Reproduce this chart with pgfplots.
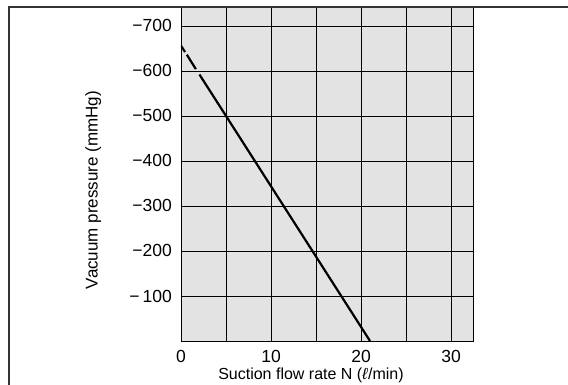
\documentclass[border=0pt]{standalone}
\usepackage{pgfplots}
\pgfplotsset{compat=1.18}
\usepackage{fontspec}
\setmainfont{Liberation Sans}
\begin{document}
\begin{tikzpicture}
\path[use as bounding box] (0,0) rectangle (568pt,385pt);
\begin{axis}[
  at={(181pt,44pt)}, anchor=south west,
  scale only axis, width=292pt, height=334pt,
  xmin=0, xmax=32.44, ymin=-742, ymax=0,
  y dir=reverse,
  axis background/.style={fill=black!11},
  axis line style={black, line width=0.8pt},
  xtick={0,10,20,30},
  minor xtick={5,15,25},
  ytick={-700,-600,-500,-400,-300,-200,-100},
  yticklabels={−700,−600,−500,−400,−300,−200,−\,100},
  xticklabels={0,10,20,30},
  grid=both,
  major grid style={black, line width=0.7pt},
  minor grid style={black, line width=0.7pt},
  major tick length=0pt, minor tick length=0pt,
  tick label style={font=\fontsize{17.5}{20}\selectfont, inner sep=0pt},
  xticklabel style={anchor=center, yshift=-15.5pt},
  yticklabel style={anchor=east, xshift=-9pt},
  xlabel style={font=\fontsize{16}{19}\selectfont, at={(axis description cs:0.445,-0.104)}, anchor=center, inner sep=0pt},
  ylabel style={font=\fontsize{17}{20}\selectfont, at={(axis description cs:-0.301,0.452)}, anchor=center, rotate=0},
  xlabel={Suction flow rate N (\textit{ℓ}/min)},
  ylabel={Vacuum pressure (mmHg)},
]
\addplot[black, line width=2.2pt] coordinates {(0,-656) (0.45,-642)};
\addplot[black, line width=2.2pt] coordinates {(0.65,-636) (1.65,-604)};
\addplot[black, line width=2.2pt] coordinates {(2.05,-592) (5,-500) (10,-343.75) (15,-187.5) (21,0)};
\end{axis}
\draw[black!80, line width=1.2pt] (9pt,0) -- (9pt,378pt) -- (568pt,378pt);
\end{tikzpicture}
\end{document}
